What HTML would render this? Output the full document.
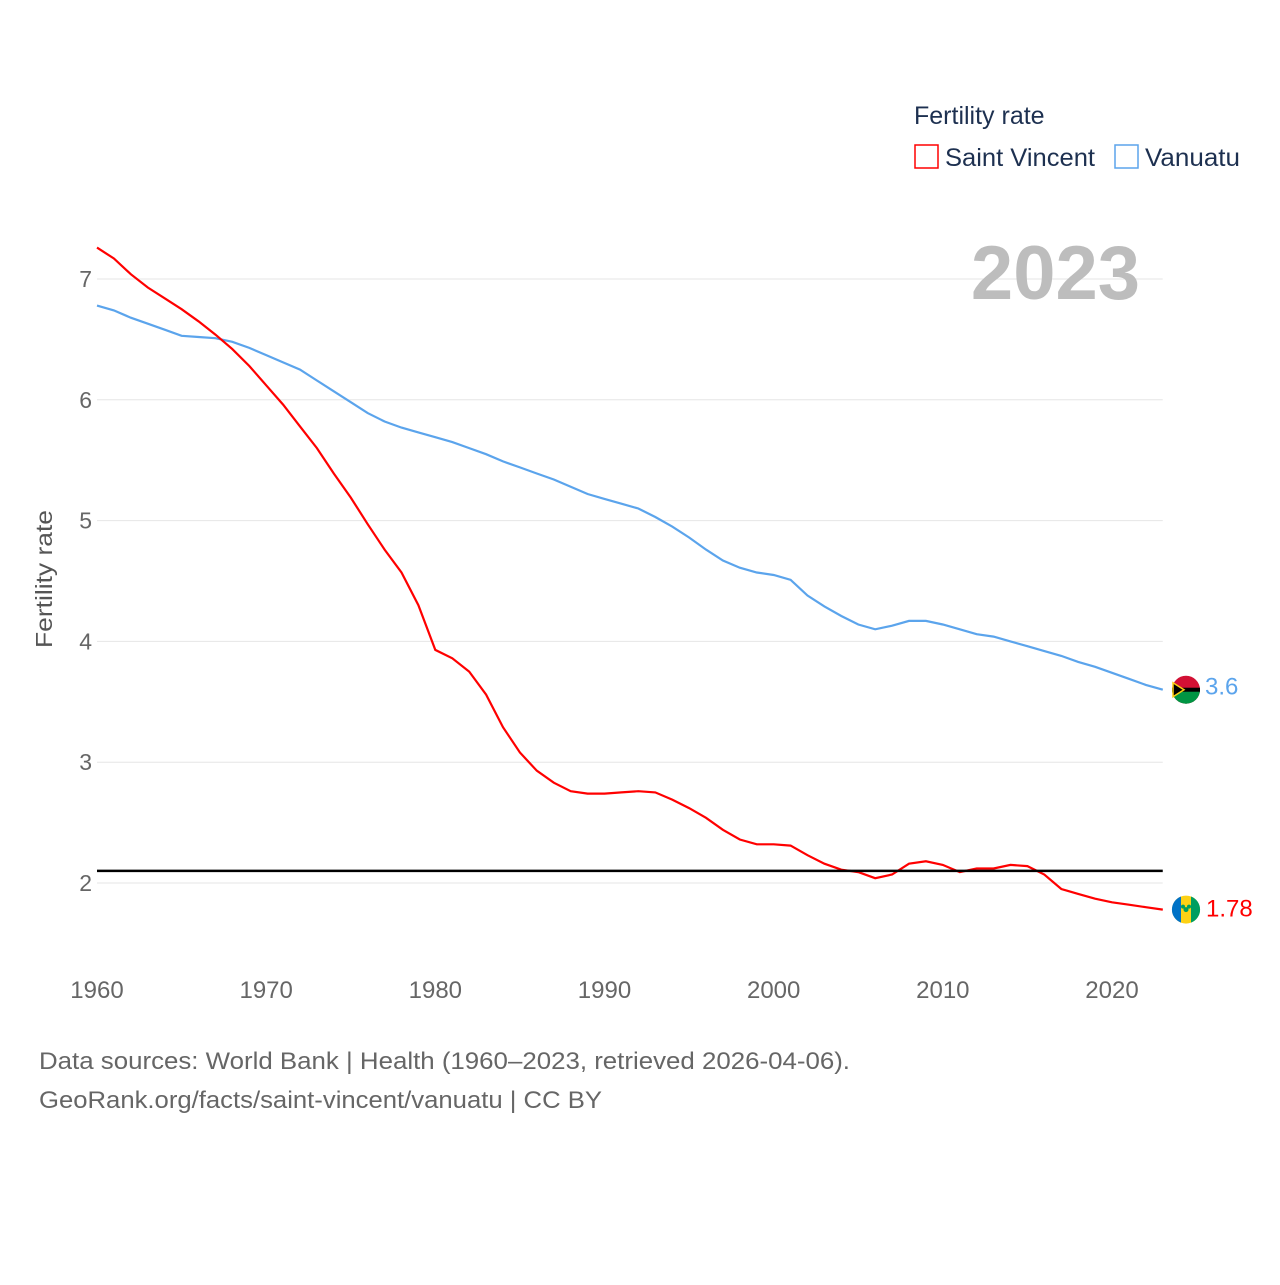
<!DOCTYPE html>
<html><head><meta charset="utf-8"><style>
body{margin:0;background:#fff;font-family:"Liberation Sans",sans-serif;}
svg text{font-family:"Liberation Sans",sans-serif;}
</style></head><body>
<svg width="1280" height="1280" xmlns="http://www.w3.org/2000/svg">
<g id="grid"></g>
<g id="yticks"></g>
<g id="xticks"></g>
<text x="52" y="579" transform="rotate(-90 52 579)" text-anchor="middle" font-size="23" textLength="138" lengthAdjust="spacingAndGlyphs" fill="#555">Fertility rate</text>
<text x="1140" y="299" text-anchor="end" font-size="76" font-weight="bold" fill="#bdbdbd">2023</text>
<g>
<text x="914" y="124" font-size="25" fill="#1d3050">Fertility rate</text>
<g><rect x="915" y="145" width="23" height="23" fill="none" stroke="#f00" stroke-width="1.5"/><text x="945" y="166" font-size="25" fill="#1d3050" textLength="150" lengthAdjust="spacingAndGlyphs">Saint Vincent</text></g>
<g><rect x="1115" y="145" width="23" height="23" fill="none" stroke="#5ba4ec" stroke-width="1.5"/><text x="1145" y="166" font-size="25" fill="#1d3050" textLength="95" lengthAdjust="spacingAndGlyphs">Vanuatu</text></g>
</g>
<g id="series"></g>
<line id="ref" stroke="#000" stroke-width="2.5"/>
<g id="vuMark">
<circle r="14" fill="#d21034"/><path d="M-14,0 A14,14 0 0 0 14,0 Z" fill="#009543"/><rect x="-14" y="-2" width="28" height="4" fill="#000"/><path d="M-13,-7 L-2,0 L-13,7 Z" fill="#000" stroke="#fdce12" stroke-width="1.5"/>
</g>
<g id="vcMark">
<circle r="14" fill="#fcd116"/><path d="M-5,-13.1 A14,14 0 0 0 -5,13.1 Z" fill="#0072c6"/><path d="M5,-13.1 A14,14 0 0 1 5,13.1 Z" fill="#009e60"/><circle cx="0" cy="0" r="2.5" fill="#009e60"/><circle cx="-3" cy="-3" r="2" fill="#009e60"/><circle cx="3" cy="-3" r="2" fill="#009e60"/>
</g>
<text id="vuLab" font-size="24" fill="#5ba4ec">3.6</text>
<text id="vcLab" font-size="24" fill="#f00">1.78</text>
<text x="39" y="1069" font-size="24" fill="#666" textLength="811" lengthAdjust="spacingAndGlyphs">Data sources: World Bank | Health (1960–2023, retrieved 2026-04-06).</text>
<text x="39" y="1108" font-size="24" fill="#666" textLength="563" lengthAdjust="spacingAndGlyphs">GeoRank.org/facts/saint-vincent/vanuatu | CC BY</text>
</svg>
<script>
const startYear = 1960;
const saintVincent = [7.26,7.17,7.04,6.93,6.84,6.75,6.65,6.54,6.42,6.28,6.12,5.96,5.78,5.60,5.39,5.19,4.97,4.76,4.57,4.30,3.93,3.86,3.75,3.56,3.29,3.08,2.93,2.83,2.76,2.74,2.74,2.75,2.76,2.75,2.69,2.62,2.54,2.44,2.36,2.32,2.32,2.31,2.23,2.16,2.11,2.09,2.04,2.07,2.16,2.18,2.15,2.09,2.12,2.12,2.15,2.14,2.07,1.95,1.91,1.87,1.84,1.82,1.80,1.78];
const vanuatu = [6.78,6.74,6.68,6.63,6.58,6.53,6.52,6.51,6.48,6.43,6.37,6.31,6.25,6.16,6.07,5.98,5.89,5.82,5.77,5.73,5.69,5.65,5.60,5.55,5.49,5.44,5.39,5.34,5.28,5.22,5.18,5.14,5.10,5.03,4.95,4.86,4.76,4.67,4.61,4.57,4.55,4.51,4.38,4.29,4.21,4.14,4.10,4.13,4.17,4.17,4.14,4.10,4.06,4.04,4.00,3.96,3.92,3.88,3.83,3.79,3.74,3.69,3.64,3.60];
const yTicks = [2,3,4,5,6,7];
const xTicks = [1960,1970,1980,1990,2000,2010,2020];
const replacementRate = [2.1];
const NS='http://www.w3.org/2000/svg';
const X = yr => 97 + (yr-1960)*(1112-97)/60;
const Y = v => 883 - (v-2)*(883-279)/5;
const x0 = X(1960), x1 = X(2023);
const g = document.getElementById('grid'), yt=document.getElementById('yticks'), xt=document.getElementById('xticks');
yTicks.forEach(v=>{
  const l=document.createElementNS(NS,'line');
  l.setAttribute('x1',x0);l.setAttribute('x2',x1);l.setAttribute('y1',Y(v));l.setAttribute('y2',Y(v));
  l.setAttribute('stroke','#e6e6e6');l.setAttribute('stroke-width','1');
  
  
  g.appendChild(l);
  const t=document.createElementNS(NS,'text');
  t.setAttribute('x',92);t.setAttribute('y',Y(v)+8);t.setAttribute('text-anchor','end');
  t.setAttribute('font-size','23');t.setAttribute('fill','#666');t.textContent=v;
  
  
  yt.appendChild(t);
});
xTicks.forEach(v=>{
  const t=document.createElementNS(NS,'text');
  t.setAttribute('x',X(v));t.setAttribute('y',998);t.setAttribute('text-anchor','middle');
  t.setAttribute('font-size','24');t.setAttribute('fill','#666');t.textContent=v;
  
  
  xt.appendChild(t);
});
const s=document.getElementById('series');
function line(data,color,name){
  const p=document.createElementNS(NS,'path');
  p.setAttribute('d',data.map((v,i)=>(i?'L':'M')+X(startYear+i).toFixed(1)+','+Y(v).toFixed(1)).join(''));
  p.setAttribute('fill','none');p.setAttribute('stroke',color);p.setAttribute('stroke-width','2.2');
  
  
  s.appendChild(p);
}
line(vanuatu,'#5ba4ec','vanuatu-line');
line(saintVincent,'#f00','saint-vincent-line');
const r=document.getElementById('ref');
r.setAttribute('x1',x0);r.setAttribute('x2',x1);r.setAttribute('y1',Y(replacementRate[0]));r.setAttribute('y2',Y(replacementRate[0]));
const vuEnd=vanuatu[vanuatu.length-1], vcEnd=saintVincent[saintVincent.length-1];
document.getElementById('vuMark').setAttribute('transform',`translate(1186,${Y(vuEnd)})`);
document.getElementById('vcMark').setAttribute('transform',`translate(1186,${Y(vcEnd)})`);
const vl=document.getElementById('vuLab');vl.setAttribute('x',1205);vl.setAttribute('y',Y(vuEnd)+5);vl.textContent=vuEnd.toFixed(1);
const cl=document.getElementById('vcLab');cl.setAttribute('x',1206);cl.setAttribute('y',Y(vcEnd)+7);cl.textContent=vcEnd.toFixed(2);
</script>
</body></html>
